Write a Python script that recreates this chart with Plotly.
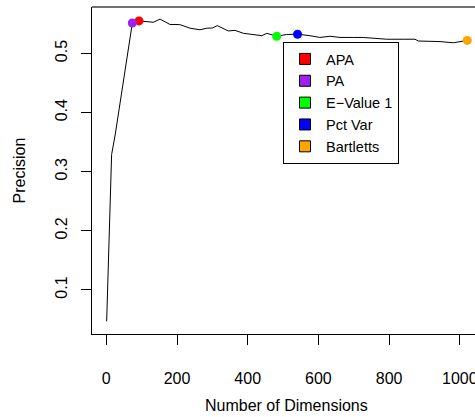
import plotly.graph_objects as go

# Precision curve vs number of dimensions
dims = [1, 15, 25, 40, 73.5, 92.5, 133, 152, 180, 208, 237, 265, 284, 300, 314,
        345, 364, 388, 416, 440, 454, 482, 510, 541, 576, 604, 633, 661, 700,
        727, 760, 793, 840, 873, 883, 944, 982, 1021]
precision = [0.047, 0.329, 0.362, 0.421, 0.551, 0.555, 0.5527, 0.558, 0.549,
             0.5487, 0.5426, 0.540, 0.5426, 0.543, 0.547, 0.538, 0.539, 0.534,
             0.532, 0.530, 0.534, 0.529, 0.532, 0.5325, 0.530, 0.527, 0.529,
             0.527, 0.527, 0.527, 0.5255, 0.524, 0.524, 0.524, 0.521, 0.520,
             0.518, 0.522]

# Selected dimensionality by each method
methods = ["APA", "PA", "E\u2212Value 1", "Pct Var", "Bartletts"]
method_dims = [92.5, 73.5, 482, 541, 1021]
method_prec = [0.555, 0.5515, 0.529, 0.5325, 0.522]
method_colors = ["#FF0000", "#A020F0", "#00FF00", "#0000FF", "#FFA500"]

x_ticks = [0, 200, 400, 600, 800, 1000]
y_ticks = [0.1, 0.2, 0.3, 0.4, 0.5]

FONT = "Liberation Sans, Arial, Helvetica, sans-serif"

fig = go.Figure()
fig.add_trace(go.Scatter(x=dims, y=precision, mode="lines",
                         line=dict(color="black", width=1), showlegend=False,
                         hoverinfo="skip", cliponaxis=False))

for name, xd, yd, col in zip(methods, method_dims, method_prec, method_colors):
    fig.add_trace(go.Scatter(x=[xd], y=[yd], mode="markers",
                             marker=dict(color=col, size=9, line=dict(width=0)),
                             showlegend=False, cliponaxis=False))
for name, col in zip(methods, method_colors):
    fig.add_trace(go.Scatter(x=[None], y=[None], mode="markers", name=name,
                             marker=dict(color=col, symbol="square", size=11,
                                         line=dict(color="black", width=1))))

fig.update_layout(
    width=475, height=417,
    margin=dict(l=92, r=0, t=7, b=83),
    paper_bgcolor="white", plot_bgcolor="white",
    font=dict(family=FONT, size=16, color="black"),
    legend=dict(x=0.4987, y=0.893, xanchor="left", yanchor="top",
                bordercolor="black", borderwidth=1, bgcolor="white",
                font=dict(size=14.5), itemsizing="trace", tracegroupgap=0,
                itemwidth=32),
    xaxis=dict(range=[-40.5, 1043], tickvals=x_ticks, ticks="outside",
               ticklen=10, tickcolor="black", showgrid=False, zeroline=False,
               showline=True, linecolor="black", linewidth=1,
               ticklabelstandoff=20, ticklabeloverflow="allow",
               automargin=False),
    yaxis=dict(range=[0.0255, 0.5785], tickvals=y_ticks, ticks="outside",
               ticklen=10, tickcolor="black", showgrid=False, zeroline=False,
               showline=True, linecolor="black", linewidth=1,
               tickangle=-90, ticklabelstandoff=8, automargin=False),
    shapes=[dict(type="line", xref="paper", yref="paper", x0=0, x1=1, y0=1, y1=1,
                 line=dict(color="#707070", width=2))],
    annotations=[
        dict(text="Number of Dimensions", xref="paper", yref="paper",
             x=0.508, y=-0.220, showarrow=False, xanchor="center",
             yanchor="middle", font=dict(size=16)),
        dict(text="Precision", xref="paper", yref="paper", x=-0.188, y=0.5,
             showarrow=False, textangle=-90, xanchor="center", yanchor="middle",
             font=dict(size=16)),
    ],
)

fig.write_html("out.html", config={"displayModeBar": False},
               post_script="document.body.style.margin='0';"
                           "document.body.style.overflow='hidden';")
